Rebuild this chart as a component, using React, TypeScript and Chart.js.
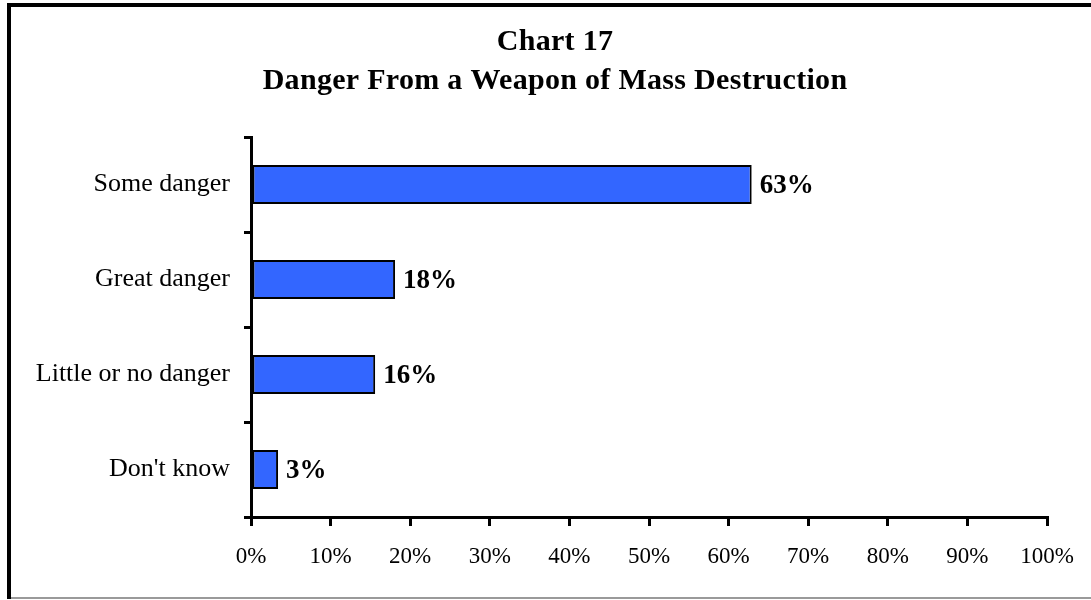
import React, { useEffect, useRef } from "react";
import { Chart, registerables } from "chart.js";

Chart.register(...registerables);

const titleLines = ["Chart 17", "Danger From a Weapon of Mass Destruction"];
const categories = ["Some danger", "Great danger", "Little or no danger", "Don't know"];
const values = [62.9, 18.1, 15.6, 3.4];
const xTicks = [0, 10, 20, 30, 40, 50, 60, 70, 80, 90, 100];

const SERIF = "'Liberation Serif', 'Times New Roman', serif";

const framePlugin = {
  id: "frameAndTitle",
  beforeDraw(chart: any) {
    const ctx = chart.ctx;
    ctx.save();
    ctx.fillStyle = "#ffffff";
    ctx.fillRect(0, 0, chart.width, chart.height);
    ctx.restore();
  },
  afterDraw(chart: any) {
    const ctx = chart.ctx;
    ctx.save();
    // frame
    ctx.fillStyle = "#000000";
    ctx.fillRect(7, 3, chart.width - 7, 4);
    ctx.fillRect(7, 3, 4, 596);
    ctx.fillStyle = "#9a9a9a";
    ctx.fillRect(11, 597, chart.width - 11, 2);
    // title
    ctx.fillStyle = "#000000";
    ctx.font = "bold 30px " + SERIF;
    try {
      (ctx as any).letterSpacing = "0.3px";
    } catch (e) {}
    ctx.textAlign = "center";
    ctx.textBaseline = "alphabetic";
    ctx.fillText(titleLines[0], 555, 50);
    ctx.fillText(titleLines[1], 555, 89);
    ctx.restore();
  },
  afterDatasetsDraw(chart: any) {
    const ctx = chart.ctx;
    const meta = chart.getDatasetMeta(0);
    ctx.save();
    ctx.fillStyle = "#000000";
    ctx.font = "bold 27px " + SERIF;
    ctx.textAlign = "left";
    ctx.textBaseline = "middle";
    meta.data.forEach((bar: any, i: number) => {
      ctx.fillText(Math.round(values[i]) + "%", bar.x + 8, bar.y + 2);
    });
    ctx.restore();
  },
};

export default function App() {
  const ref = useRef<HTMLCanvasElement | null>(null);
  useEffect(() => {
    if (!ref.current) return;
    const chart = new Chart(ref.current, {
      type: "bar",
      data: {
        labels: categories,
        datasets: [
          {
            data: values,
            backgroundColor: "#3366FF",
            borderColor: "#000000",
            borderWidth: 2,
            borderSkipped: false,
            barPercentage: 0.41,
            categoryPercentage: 1,
          },
        ],
      },
      options: {
        indexAxis: "y",
        animation: false,
        responsive: false,
        devicePixelRatio: 1,
        layout: { padding: { left: 0, right: 44, top: 137, bottom: 0 } },
        plugins: {
          legend: { display: false },
          title: { display: false },
          tooltip: { enabled: false },
        },
        scales: {
          x: {
            min: 0,
            max: 100,
            afterFit: (s: any) => {
              s.height = 83;
            },
            afterBuildTicks: (s: any) => {
              s.ticks = xTicks.map((v) => ({ value: v }));
            },
            ticks: {
              color: "#000000",
              font: { family: SERIF, size: 23 },
              padding: 17,
              maxRotation: 0,
              callback: (v: any) => v + "%",
            },
            grid: {
              drawOnChartArea: false,
              drawTicks: true,
              tickLength: 9,
              tickWidth: 3,
              tickColor: "#000000",
              color: "#000000",
              lineWidth: 3,
            },
            border: { display: true, color: "#000000", width: 3 },
          },
          y: {
            afterFit: (s: any) => {
              s.width = 251;
            },
            ticks: {
              color: "#000000",
              font: { family: SERIF, size: 26 },
              padding: 14,
            },
            grid: {
              drawOnChartArea: false,
              drawTicks: true,
              tickLength: 7,
              tickWidth: 3,
              tickColor: "#000000",
              color: "#000000",
              lineWidth: 3,
            },
            border: { display: true, color: "#000000", width: 3 },
          },
        },
      },
      plugins: [framePlugin],
    } as any);
    return () => chart.destroy();
  }, []);
  return (
    <div style={{ position: "fixed", left: 0, top: 0, width: 1091, height: 600 }}>
      <canvas ref={ref} width={1091} height={600} style={{ width: 1091, height: 600 }} />
    </div>
  );
}
